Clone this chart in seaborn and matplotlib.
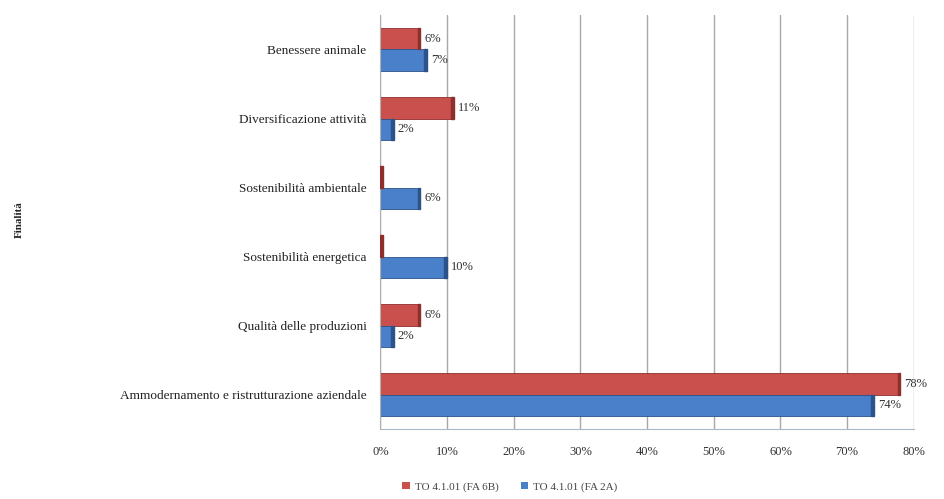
import matplotlib
matplotlib.use("Agg")
import matplotlib.pyplot as plt
import seaborn as sns
import pandas as pd
from matplotlib.ticker import PercentFormatter

categories = [
    "Benessere animale",
    "Diversificazione attività",
    "Sostenibilità ambientale",
    "Sostenibilità energetica",
    "Qualità delle produzioni",
    "Ammodernamento e ristrutturazione aziendale",
]
series_names = ["TO 4.1.01 (FA 6B)", "TO 4.1.01 (FA 2A)"]
fa6b = [0.06, 0.11, 0.0, 0.0, 0.06, 0.78]
fa2a = [0.07, 0.02, 0.06, 0.10, 0.02, 0.74]
x_ticks = [0, 0.1, 0.2, 0.3, 0.4, 0.5, 0.6, 0.7, 0.8]

colors = {series_names[0]: "#C9504D", series_names[1]: "#4A7FC9"}
edges = {series_names[0]: "#8E2F2D", series_names[1]: "#2C5389"}

df = pd.DataFrame({
    "Finalità": categories * 2,
    "Serie": [series_names[0]] * len(categories) + [series_names[1]] * len(categories),
    "Quota": fa6b + fa2a,
})

sns.set_style("white")
plt.rcParams["font.family"] = ["Liberation Serif", "DejaVu Sans"]

fig = plt.figure(figsize=(9.44, 4.99), dpi=100)
ax = fig.add_axes([0.403, 0.14, 0.565, 0.83])

sns.barplot(data=df, y="Finalità", x="Quota", hue="Serie", orient="h",
            palette=colors, width=0.62, dodge=True, ax=ax, legend=True,
            linewidth=0, saturation=1)

# darker right-hand caps give the bars a bit of depth
for container, name in zip(ax.containers, series_names):
    for bar in container:
        w = bar.get_width()
        if w <= 0:
            w = 0.004
            bar.set_width(w)
        cap = plt.Rectangle((bar.get_x() + w - 0.004, bar.get_y()), 0.004,
                            bar.get_height(), color=edges[name], zorder=3)
        ax.add_patch(cap)
        bar.set_edgecolor(edges[name])
        bar.set_linewidth(0.6)

# value labels
for container, vals in zip(ax.containers, [fa6b, fa2a]):
    labels = [f"{round(v*100)}%" if v > 0 else "" for v in vals]
    ax.bar_label(container, labels=labels, padding=3, fontsize=9, color="#333333")

ax.set_xlim(0, 0.8)
ax.set_xticks(x_ticks)
ax.xaxis.set_major_formatter(PercentFormatter(1.0, decimals=0))
ax.tick_params(axis="x", labelsize=9, colors="#333333", length=0, pad=12)
ax.tick_params(axis="y", labelsize=9.5, colors="#222222", length=0, pad=10)
ax.grid(axis="x", color="#A8A8A8", linewidth=1.0)
ax.set_axisbelow(True)
for s in ["top", "right"]:
    ax.spines[s].set_visible(False)
ax.spines["left"].set_color("#B0B0B0")
ax.spines["bottom"].set_color("#A8B8C8")
ax.set_xlabel("")
ax.set_ylabel("")
fig.text(0.02, 0.56, "Finalità", rotation=90, fontsize=8, fontweight="bold",
         ha="center", va="center", color="#222222")

handles, labels = ax.get_legend_handles_labels()
ax.get_legend().remove()
leg = fig.legend(handles, labels, loc="center", bbox_to_anchor=(0.54, 0.025),
                 ncol=2, frameon=False, fontsize=8, handlelength=0.7,
                 handleheight=0.7, columnspacing=2.0, handletextpad=0.4)
for t in leg.get_texts():
    t.set_color("#444444")

fig.savefig("out.png", dpi=100)
